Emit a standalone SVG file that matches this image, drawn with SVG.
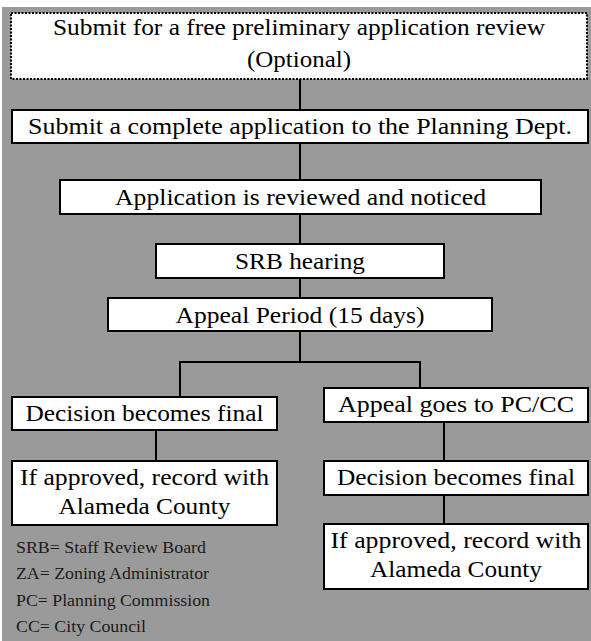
<svg xmlns="http://www.w3.org/2000/svg" width="591" height="641" viewBox="0 0 591 641">
<style>
.box{fill:#fff;stroke:#000;stroke-width:2}
.dot{fill:#fff;stroke:#000;stroke-width:2;stroke-dasharray:2 1.5}
.t{font-family:"Liberation Serif","Times New Roman",serif;font-size:24px;fill:#000;text-anchor:middle}
.leg{font-family:"Liberation Serif","Times New Roman",serif;font-size:17px;fill:#1a1a1a}
.ln{stroke:#000;stroke-width:2;fill:none}
</style>
<rect x="0" y="0" width="591" height="641" fill="#fff"/>
<rect x="2" y="7" width="589" height="634" fill="#9a9a9a"/>
<g id="connectors">
<line class="ln" x1="300" y1="79" x2="300" y2="110"/>
<line class="ln" x1="300" y1="143" x2="300" y2="180"/>
<line class="ln" x1="300" y1="214" x2="300" y2="244"/>
<line class="ln" x1="300" y1="278" x2="300" y2="298"/>
<polyline class="ln" points="300,331 300,362"/>
<polyline class="ln" points="180,397 180,362 420,362 420,388"/>
<line class="ln" x1="156" y1="430" x2="156" y2="461"/>
<line class="ln" x1="444" y1="422" x2="444" y2="461"/>
<line class="ln" x1="444" y1="495" x2="444" y2="524"/>
</g>
<g id="n1">
<rect class="dot" x="11" y="13" width="576" height="66"/>
<text class="t" x="299" y="35" textLength="492" lengthAdjust="spacingAndGlyphs">Submit for a free preliminary application review</text>
<text class="t" x="299" y="67" textLength="104" lengthAdjust="spacingAndGlyphs">(Optional)</text>
</g>
<g id="n2">
<rect class="box" x="12" y="110" width="576" height="33"/>
<text class="t" x="300" y="134" textLength="544" lengthAdjust="spacingAndGlyphs">Submit a complete application to the Planning Dept.</text>
</g>
<g id="n3">
<rect class="box" x="60" y="180" width="481" height="34"/>
<text class="t" x="300.5" y="205" textLength="371" lengthAdjust="spacingAndGlyphs">Application is reviewed and noticed</text>
</g>
<g id="n4">
<rect class="box" x="156" y="244" width="288" height="34"/>
<text class="t" x="300" y="269" textLength="130" lengthAdjust="spacingAndGlyphs">SRB hearing</text>
</g>
<g id="n5">
<rect class="box" x="108" y="298" width="384" height="33"/>
<text class="t" x="300" y="323" textLength="249" lengthAdjust="spacingAndGlyphs">Appeal Period (15 days)</text>
</g>
<g id="n6">
<rect class="box" x="12" y="397" width="265" height="33"/>
<text class="t" x="144.5" y="421" textLength="238" lengthAdjust="spacingAndGlyphs">Decision becomes final</text>
</g>
<g id="n7">
<rect class="box" x="12" y="461" width="265" height="64"/>
<text class="t" x="144.5" y="485" textLength="249" lengthAdjust="spacingAndGlyphs">If approved, record with</text>
<text class="t" x="144.5" y="514" textLength="172" lengthAdjust="spacingAndGlyphs">Alameda County</text>
</g>
<g id="n8">
<rect class="box" x="324" y="388" width="264" height="34"/>
<text class="t" x="456" y="412" textLength="236" lengthAdjust="spacingAndGlyphs">Appeal goes to PC/CC</text>
</g>
<g id="n9">
<rect class="box" x="324" y="461" width="264" height="34"/>
<text class="t" x="456" y="485" textLength="238" lengthAdjust="spacingAndGlyphs">Decision becomes final</text>
</g>
<g id="n10">
<rect class="box" x="324" y="524" width="264" height="65"/>
<text class="t" x="456" y="548" textLength="251" lengthAdjust="spacingAndGlyphs">If approved, record with</text>
<text class="t" x="456" y="577" textLength="172" lengthAdjust="spacingAndGlyphs">Alameda County</text>
</g>
<g id="legend">
<text class="leg" x="16" y="553" textLength="190" lengthAdjust="spacingAndGlyphs">SRB= Staff Review Board</text>
<text class="leg" x="16" y="579" textLength="193" lengthAdjust="spacingAndGlyphs">ZA= Zoning Administrator</text>
<text class="leg" x="16" y="606" textLength="194" lengthAdjust="spacingAndGlyphs">PC= Planning Commission</text>
<text class="leg" x="16" y="632" textLength="130" lengthAdjust="spacingAndGlyphs">CC= City Council</text>
</g>
</svg>
